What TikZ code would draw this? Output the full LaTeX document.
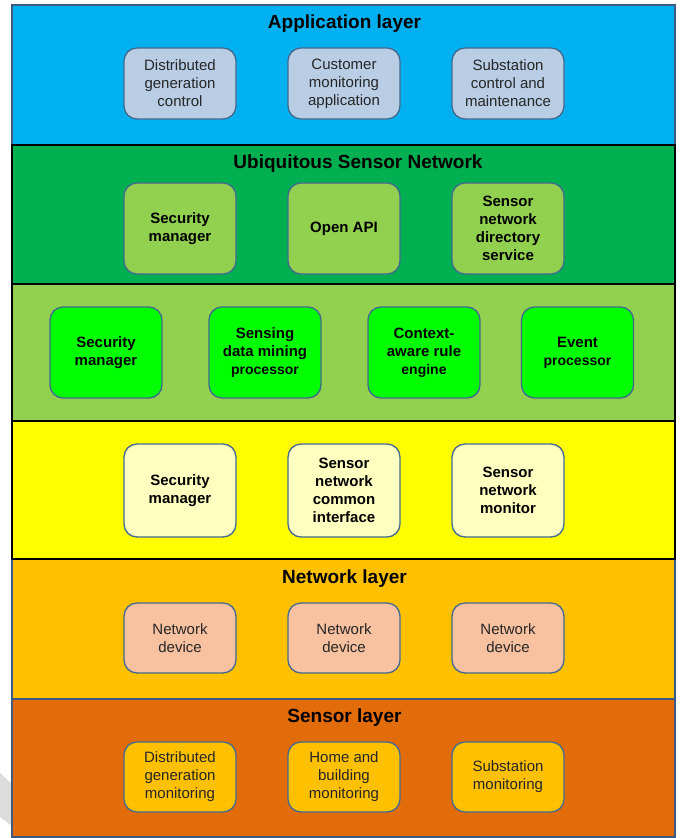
\documentclass[tikz,border=0pt]{standalone}
\usepackage{fontspec}
\setmainfont{Liberation Sans}
\definecolor{appblue}{HTML}{00B0F0}
\definecolor{appfill}{HTML}{B9CDE5}
\definecolor{usngreen}{HTML}{00B050}
\definecolor{usnfill}{HTML}{92D050}
\definecolor{midgreen}{HTML}{92D050}
\definecolor{midfill}{HTML}{00FF00}
\definecolor{ylayer}{HTML}{FFFF00}
\definecolor{yfill}{HTML}{FFFFC0}
\definecolor{netlayer}{HTML}{FFC000}
\definecolor{netfill}{HTML}{F8C1A0}
\definecolor{senslayer}{HTML}{E36C0A}
\definecolor{sensfill}{HTML}{FFC000}
\definecolor{boxedge}{HTML}{44698F}
\definecolor{layeredge}{HTML}{3E5A80}
\definecolor{textgray}{HTML}{262626}
\definecolor{wedgegray}{HTML}{DCDCDC}
\tikzset{
  layer/.style={line width=1.8pt},
  softlayer/.style={layer, draw=layeredge},
  hardlayer/.style={layer, draw=black},
  title/.style={anchor=base, font=\fontsize{19}{22}\selectfont\bfseries, text=black},
  box/.style={rounded corners=13pt, draw=boxedge, line width=1.3pt, align=center,
    minimum width=112pt, inner sep=0pt, text=textgray,
    font=\fontsize{15}{18}\selectfont},
  boldbox/.style={box, text=black, font=\fontsize{15}{18}\selectfont\bfseries},
  appbox/.style={box, fill=appfill, minimum height=71pt},
  usnbox/.style={boldbox, fill=usnfill, minimum height=91pt},
  midbox/.style={boldbox, fill=midfill, minimum height=91pt},
  ybox/.style={boldbox, fill=yfill, minimum height=93pt},
  netbox/.style={box, fill=netfill, minimum height=70pt},
  sensbox/.style={box, fill=sensfill, minimum height=70pt}
}
\begin{document}
\begin{tikzpicture}[x=1pt,y=-1pt]
\useasboundingbox (0,0) rectangle (681,838);
% faint mark at the lower left
\fill[wedgegray] (0,773) -- (12,784) -- (12,826) -- (0,817) -- cycle;
% layer bands
\path[softlayer, fill=appblue] (12,5) rectangle (675,145);
\path[softlayer, fill=senslayer] (12,699) rectangle (675,837);
\path[softlayer, fill=netlayer] (12,559) rectangle (675,699);
\path[hardlayer, fill=usngreen] (12,145) rectangle (675,284);
\path[hardlayer, fill=midgreen] (12,284) rectangle (675,421);
\path[hardlayer, fill=ylayer] (12,421) rectangle (675,559);
% layer titles
\node[title] (tapp) at (344.5,28) {Application layer};
\node[title] (tusn) at (358,168) {Ubiquitous Sensor Network};
\node[title] (tnet) at (344.5,583) {Network layer};
\node[title] (tsens) at (344.5,722) {Sensor layer};
% application layer
\node[appbox] (a1) at (180,83.5) {Distributed\\generation\\control};
\node[appbox] (a2) at (344,83.5) {Customer\\monitoring\\application};
\node[appbox] (a3) at (508,83.5) {Substation\\control and\\maintenance};
% ubiquitous sensor network
\node[usnbox] (u1) at (180,228.5) {Security\\manager};
\node[usnbox] (u2) at (344,228.5) {Open API};
\node[usnbox] (u3) at (508,228.5) {Sensor\\network\\directory\\service};
% middleware
\node[midbox] (m1) at (106,352.5) {Security\\manager};
\node[midbox] (m2) at (265,352.5) {Sensing\\data mining\\{\fontsize{14}{18}\selectfont processor}};
\node[midbox] (m3) at (424,352.5) {Context-\\aware rule\\{\fontsize{14}{18}\selectfont engine}};
\node[midbox] (m4) at (577.5,352.5) {Event\\{\fontsize{14}{18}\selectfont processor}};
% interface band
\node[ybox] (y1) at (180,490.5) {Security\\manager};
\node[ybox] (y2) at (344,490.5) {Sensor\\network\\common\\interface};
\node[ybox] (y3) at (508,490.5) {Sensor\\network\\monitor};
% network layer
\node[netbox] (n1) at (180,638) {Network\\device};
\node[netbox] (n2) at (344,638) {Network\\device};
\node[netbox] (n3) at (508,638) {Network\\device};
% sensor layer
\node[sensbox] (s1) at (180,777) {Distributed\\generation\\monitoring};
\node[sensbox] (s2) at (344,777) {Home and\\building\\monitoring};
\node[sensbox] (s3) at (508,777) {Substation\\monitoring};
\end{tikzpicture}
\end{document}
